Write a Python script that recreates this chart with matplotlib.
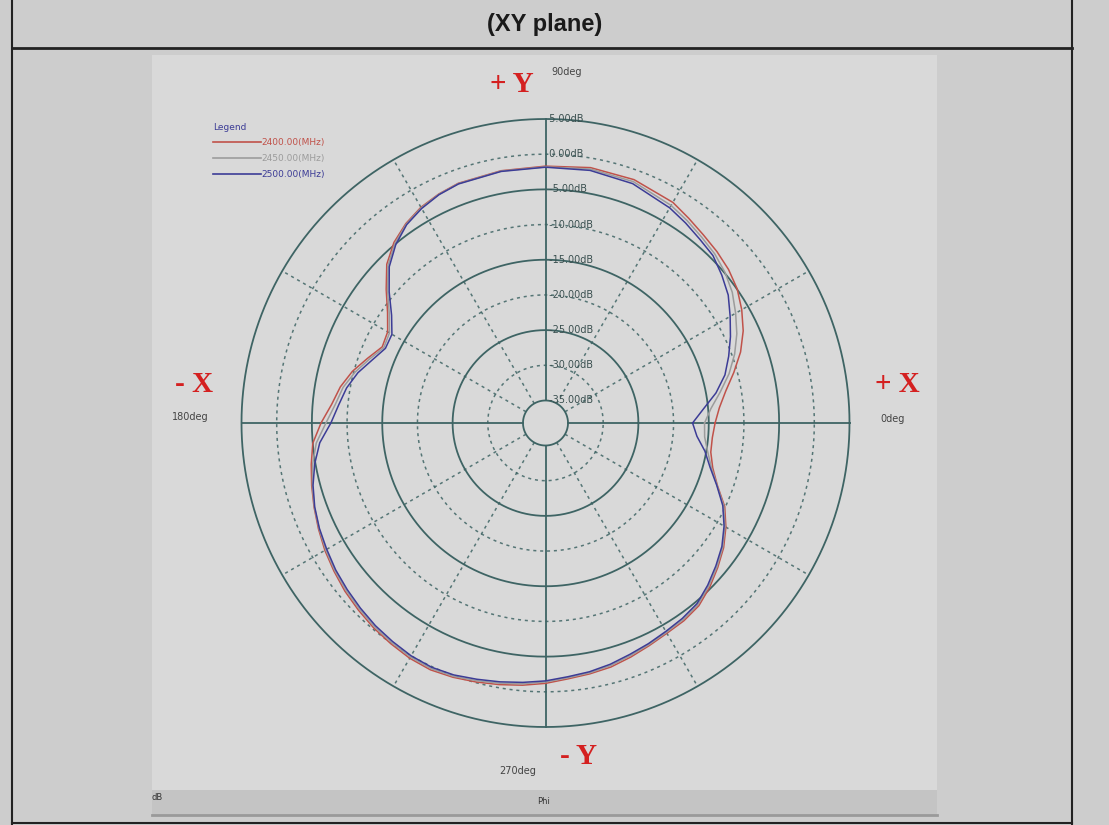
import numpy as np
import matplotlib
matplotlib.use("Agg")
import matplotlib.pyplot as plt
from matplotlib.lines import Line2D
from matplotlib.patches import Rectangle

# radiation pattern, XY plane (phi in deg, gain in dB)
phi_deg = [0, 5, 10, 15, 20, 25, 30, 35, 40, 45, 50, 55, 60, 70, 80, 90, 100, 110,
           115, 120, 125, 130, 135, 140, 145, 150, 155, 160, 165, 170, 175, 180,
           185, 190, 195, 200, 205, 210, 215, 220, 225, 230, 235, 240, 245, 250,
           255, 260, 265, 270, 275, 280, 285, 290, 295, 300, 305, 310, 315, 320,
           325, 330, 335, 340, 345, 350, 355]

gain_2400 = [-14.1, -13.4, -12.2, -10.5, -8.7, -7.2, -6.0, -4.95, -4.25, -3.75, -3.3, -2.7, -2.0, -1.4, -1.35, -1.7, -1.8, -1.95,
             -2.3, -2.8, -3.6, -4.7, -6.3, -8.65, -10.8, -12.3, -12.6, -11.3, -9.8, -8.6, -7.7, -6.3,
             -5.0, -4.4, -3.8, -3.2, -2.6, -2.0, -1.5, -1.0, -0.6, -0.2, 0.1, 0.4, 0.5, 0.25,
             -0.1, -0.45, -0.8, -1.2, -1.7, -2.0, -2.3, -2.8, -3.3, -3.7, -3.9, -4.3, -5.2, -6.25,
             -7.3, -8.6, -10.1, -12.2, -13.6, -14.35, -14.4]

gain_2450 = [-15.6, -14.6, -13.0, -11.2, -9.6, -8.2, -7.0, -5.8, -4.9, -4.2, -3.7, -3.1, -2.5, -1.7, -1.55, -1.8, -1.85, -2.0,
             -2.35, -2.9, -3.7, -4.9, -6.55, -8.9, -11.1, -12.6, -12.85, -11.6, -10.2, -9.0, -8.2, -7.0,
             -5.5, -4.6, -3.9, -3.25, -2.7, -2.15, -1.65, -1.2, -0.8, -0.4, -0.1, 0.2, 0.3, 0.1,
             -0.3, -0.65, -1.0, -1.4, -1.85, -2.15, -2.5, -3.0, -3.45, -3.85, -4.1, -4.5, -5.4, -6.4,
             -7.45, -8.75, -10.25, -12.25, -13.8, -14.8, -15.5]

gain_2500 = [-17.3, -15.7, -13.6, -11.8, -10.5, -9.2, -7.9, -6.5, -5.5, -4.55, -4.1, -3.5, -2.9, -2.0, -1.75, -1.85, -1.9, -2.05,
             -2.4, -3.0, -3.8, -5.1, -6.8, -9.2, -11.5, -13.0, -13.1, -12.0, -10.6, -9.5, -8.7, -7.7,
             -6.0, -4.9, -4.0, -3.3, -2.75, -2.3, -1.8, -1.4, -1.0, -0.6, -0.3, 0.0, 0.1, -0.1,
             -0.5, -0.85, -1.2, -1.55, -2.0, -2.3, -2.7, -3.2, -3.6, -4.0, -4.3, -4.7, -5.6, -6.6,
             -7.6, -8.9, -10.4, -12.3, -14.0, -15.2, -16.6]

series_names = ["2400.00(MHz)", "2450.00(MHz)", "2500.00(MHz)"]
series_colors = ["#c0524a", "#9c9c9c", "#3c3c96"]

ring_db = [5, 0, -5, -10, -15, -20, -25, -30, -35]
ring_labels = ["5.00dB", "0.00dB", "-5.00dB", "-10.00dB", "-15.00dB",
               "-20.00dB", "-25.00dB", "-30.00dB", "-35.00dB"]
r_min, r_max = -38.2, 5

W, H = 1109, 825
grid_c = "#3e6464"


def fx(x):
    return x / W


def fy(y):
    return 1 - y / H


fig = plt.figure(figsize=(W / 100, H / 100), dpi=100, facecolor="#cdcdcd")

# plot panel and bottom strip
fig.add_artist(Rectangle((fx(152), fy(790)), fx(937) - fx(152), fy(55) - fy(790),
                         transform=fig.transFigure, fc="#d9d9d9", ec="none", zorder=0))
fig.add_artist(Rectangle((fx(152), fy(815)), fx(937) - fx(152), fy(790) - fy(815),
                         transform=fig.transFigure, fc="#c4c4c4", ec="none", zorder=0))
fig.add_artist(Line2D([fx(152), fx(937)], [fy(815), fy(815)], transform=fig.transFigure,
                      color="#9a9a9a", lw=2))
fig.text(fx(157), fy(798), "dB", fontsize=6, color="#333333", ha="center", va="center")
fig.text(fx(544), fy(801), "Phi", fontsize=6, color="#333333", ha="center", va="center")

# header box
fig.add_artist(Line2D([fx(12), fx(1072)], [fy(48), fy(48)], transform=fig.transFigure, color="#222222", lw=2))
fig.add_artist(Line2D([fx(12), fx(12)], [0, 1], transform=fig.transFigure, color="#222222", lw=1.5))
fig.add_artist(Line2D([fx(1072), fx(1072)], [0, 1], transform=fig.transFigure, color="#222222", lw=1.5))
fig.add_artist(Line2D([fx(12), fx(1072)], [fy(823), fy(823)], transform=fig.transFigure, color="#222222", lw=1.5))
fig.text(fx(545), fy(24), "(XY plane)", fontsize=17, fontweight="bold", family="Liberation Sans",
         ha="center", va="center", color="#1a1a1a")

# polar chart
cx, cy, rad = 545.5, 423, 304
ax = fig.add_axes([fx(cx - rad), fy(cy + rad), 2 * rad / W, 2 * rad / H], projection="polar")
ax.set_axis_off()
ax.set_ylim(r_min, r_max)

th = np.linspace(0, 2 * np.pi, 721)
for i, r in enumerate(ring_db):
    if i % 2 == 0:
        ax.plot(th, np.full_like(th, r), color=grid_c, lw=1.3, zorder=1, clip_on=False)
    else:
        ax.plot(th, np.full_like(th, r), color=grid_c, lw=1.1, ls=(0, (2, 2.5)), alpha=0.85, zorder=1)

for a in range(0, 360, 30):
    t = np.deg2rad(a)
    if a % 90 == 0:
        ax.plot([t, t], [-35, r_max], color=grid_c, lw=1.3, zorder=1, clip_on=False)
    else:
        ax.plot([t, t], [-35, r_max], color=grid_c, lw=1.1, ls=(0, (2, 2.5)), alpha=0.85, zorder=1)

for r, lab in zip(ring_db, ring_labels):
    ax.text(np.pi / 2, r, " " + lab, fontsize=7, color="#3b5050", ha="left", va="center", zorder=3)

phi = np.deg2rad(phi_deg + [360])
for g, c in zip([gain_2400, gain_2450, gain_2500], series_colors):
    ax.plot(phi, g + [g[0]], color=c, lw=1.1, zorder=2)

# legend
fig.text(fx(213), fy(127), "Legend", fontsize=6.5, color="#3c3c96", ha="left", va="center")
for k, (name, c) in enumerate(zip(series_names, series_colors)):
    y = 142 + 16 * k
    fig.add_artist(Line2D([fx(213), fx(261)], [fy(y), fy(y)], transform=fig.transFigure, color=c, lw=1.2))
    fig.text(fx(261), fy(y), name, fontsize=6.5, color=c, ha="left", va="center")

# axis direction labels
red_c = "#d42020"
for x, y, s in [(512, 84, "+ Y"), (194, 384, "- X"), (897, 384, "+ X"), (578, 757, "- Y")]:
    fig.text(fx(x), fy(y), s, fontsize=21, fontweight="bold", family="Liberation Serif",
             color=red_c, ha="center", va="center")
for x, y, s in [(567, 72, "90deg"), (190, 417, "180deg"), (893, 419, "0deg"), (518, 771, "270deg")]:
    fig.text(fx(x), fy(y), s, fontsize=7, color="#444444", ha="center", va="center")

fig.savefig("out.png", dpi=100, facecolor=fig.get_facecolor())
